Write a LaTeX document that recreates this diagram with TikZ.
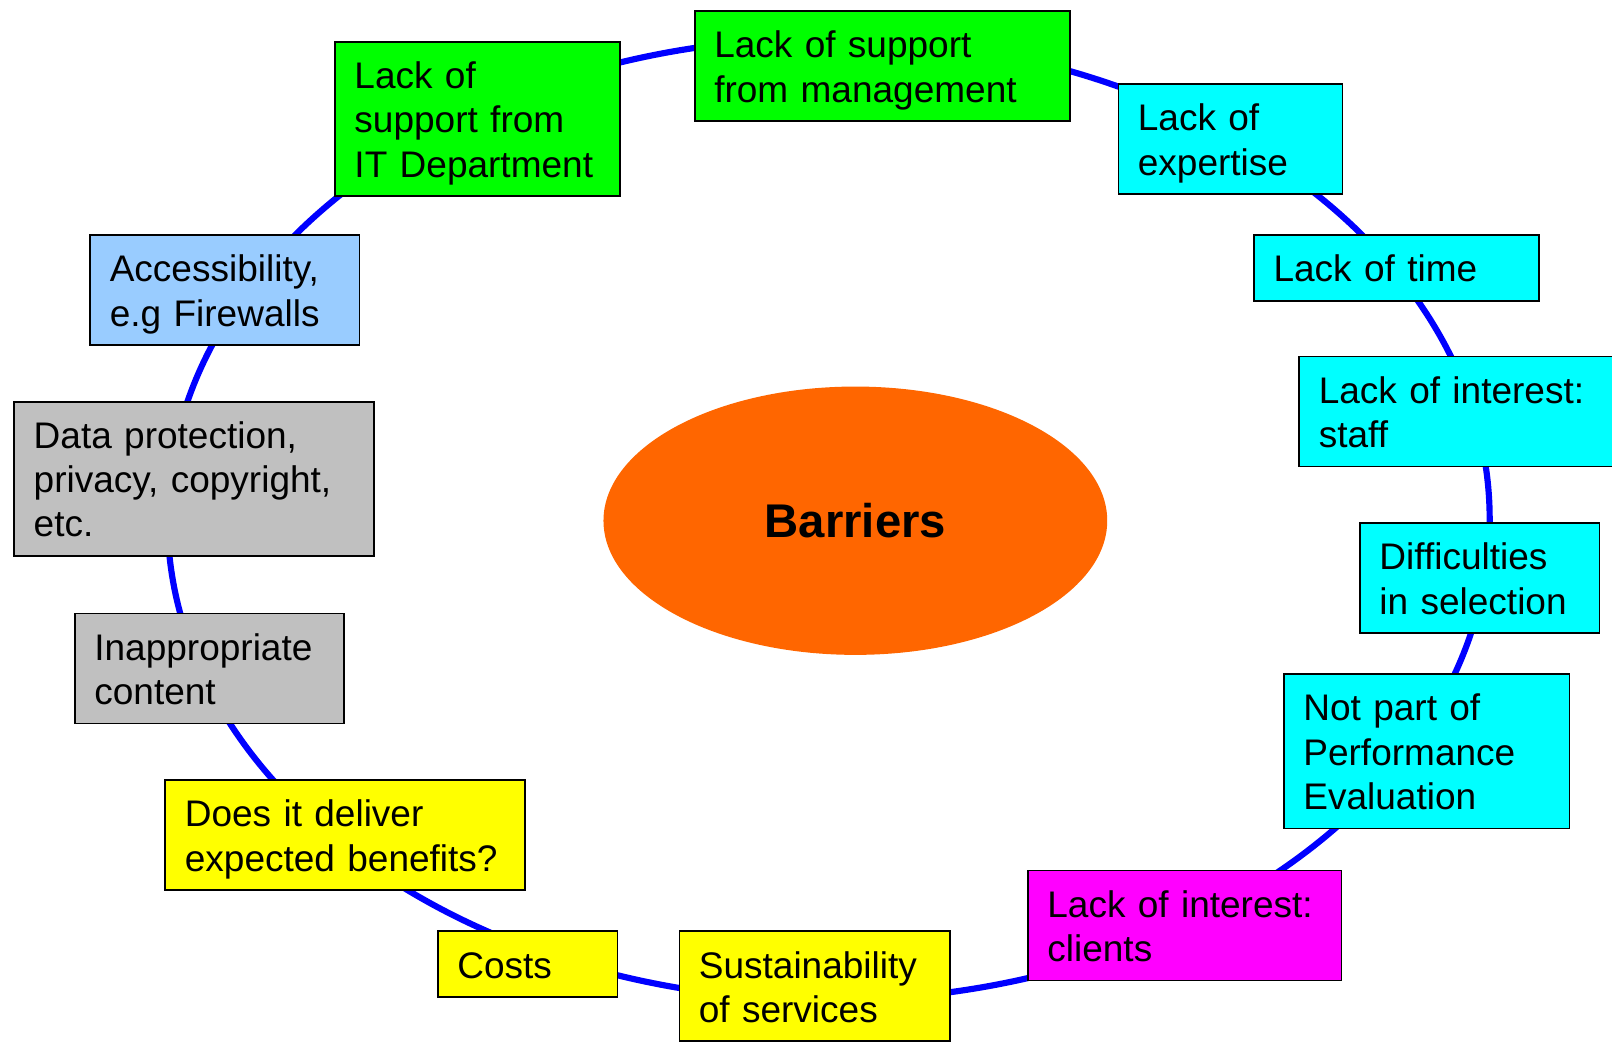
\documentclass[tikz,border=0pt]{standalone}
\usepackage{fontspec}
\setmainfont{Liberation Sans}
\usetikzlibrary{shapes.geometric}
\definecolor{cGreen}{HTML}{00FF00}
\definecolor{cCyan}{HTML}{00FFFF}
\definecolor{cMagenta}{HTML}{FF00FF}
\definecolor{cYellow}{HTML}{FFFF00}
\definecolor{cGray}{HTML}{C0C0C0}
\definecolor{cLightBlue}{HTML}{99CCFF}
\definecolor{cOrange}{HTML}{FF6600}
\definecolor{cRing}{HTML}{0000FF}
\newcommand\lline[1]{\rule[-8pt]{0pt}{43pt}\mbox{#1}}
\begin{document}
\begin{tikzpicture}[x=1pt,y=-1pt,
  bx/.style={draw=black, line width=1.6pt, anchor=north west, align=left,
    inner xsep=19pt, inner ysep=10.5pt, font=\fontsize{36}{43}\selectfont},
  core/.style={ellipse, fill=cOrange, inner sep=0pt,
    font=\fontsize{46}{55}\selectfont\bfseries}]
\clip (0,0) rectangle (1568,1016);
\draw[cRing, line width=6pt] (806,505) ellipse [x radius=643pt, y radius=468pt];
\node[core, minimum width=490pt, minimum height=261pt] (barriers) at (832,506.5) {Barriers};
\node[bx, fill=cGreen, text width=327pt] (mgmt) at (675,10) {\lline{Lack of support}\\\lline{from management}};
\node[bx, fill=cCyan, text width=180pt] (expertise) at (1087,81) {\lline{Lack of}\\\lline{expertise}};
\node[bx, fill=cCyan, text width=239pt] (time) at (1219,228) {\lline{Lack of time}};
\node[bx, fill=cCyan, text width=274pt] (staff) at (1263,346) {\lline{Lack of interest:}\\\lline{staff}};
\node[bx, fill=cCyan, text width=195pt] (selection) at (1322,508) {\lline{Difficulties}\\\lline{in selection}};
\node[bx, fill=cCyan, text width=240pt] (perf) at (1248,655) {\lline{Not part of}\\\lline{Performance}\\\lline{Evaluation}};
\node[bx, fill=cMagenta, text width=267pt] (clients) at (999,846) {\lline{Lack of interest:}\\\lline{clients}};
\node[bx, fill=cYellow, text width=225pt] (sustain) at (660,905) {\lline{Sustainability}\\\lline{of services}};
\node[bx, fill=cYellow, text width=137pt] (costs) at (425,905) {\lline{Costs}};
\node[bx, fill=cYellow, text width=312pt] (benefits) at (160,758) {\lline{Does it deliver}\\\lline{expected benefits?}};
\node[bx, fill=cGray, text width=224pt] (inapprop) at (72,596) {\lline{Inappropriate}\\\lline{content}};
\node[bx, fill=cGray, text width=312pt] (data) at (13,390) {\lline{Data protection,}\\\lline{privacy, copyright,}\\\lline{etc.}};
\node[bx, fill=cLightBlue, text width=224pt] (access) at (87,228) {\lline{Accessibility,}\\\lline{e.g Firewalls}};
\node[bx, fill=cGreen, text width=239pt] (itdept) at (325,40) {\lline{Lack of}\\\lline{support from}\\\lline{IT Department}};
\end{tikzpicture}
\end{document}
